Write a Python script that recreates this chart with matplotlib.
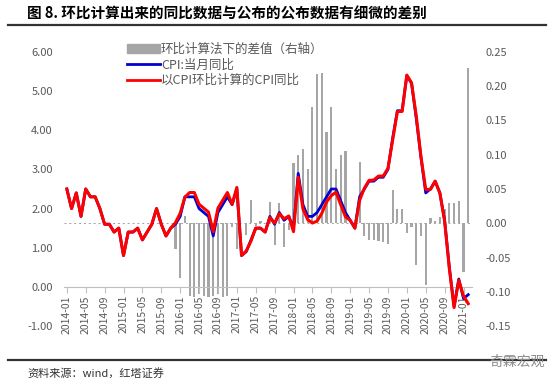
import numpy as np
import pandas as pd
import matplotlib
matplotlib.use("Agg")
import matplotlib.pyplot as plt
from matplotlib.patches import Patch
from matplotlib.lines import Line2D

plt.rcParams['font.family'] = ['Noto Sans CJK SC', 'DejaVu Sans']

# months 2014-01 .. 2021-02
months = pd.date_range('2014-01', periods=86, freq='MS').strftime('%Y-%m').tolist()

# CPI:当月同比
cpi = [2.5, 2.0, 2.4, 1.8, 2.5, 2.3, 2.3, 2.0, 1.6, 1.6, 1.4, 1.5,
       0.8, 1.4, 1.4, 1.5, 1.2, 1.4, 1.6, 2.0, 1.6, 1.3, 1.5, 1.6,
       1.8, 2.3, 2.3, 2.3, 2.0, 1.9, 1.8, 1.3, 1.9, 2.1, 2.3, 2.1,
       2.5, 0.8, 0.9, 1.2, 1.5, 1.5, 1.4, 1.8, 1.6, 1.9, 1.7, 1.8,
       1.5, 2.9, 2.1, 1.8, 1.8, 1.9, 2.1, 2.3, 2.5, 2.5, 2.2, 1.9,
       1.7, 1.5, 2.3, 2.5, 2.7, 2.7, 2.8, 2.8, 3.0, 3.8, 4.5, 4.5,
       5.4, 5.2, 4.3, 3.3, 2.4, 2.5, 2.7, 2.4, 1.7, 0.5, -0.5, 0.2,
       -0.3, -0.2]

# 以CPI环比计算的CPI同比
cpi_mom = [2.5, 2.0, 2.4, 1.8, 2.5, 2.3, 2.3, 2.0, 1.6, 1.6, 1.4, 1.5,
           0.8, 1.4, 1.4, 1.5, 1.2, 1.4, 1.6, 2.0, 1.6, 1.3, 1.5, 1.64,
           1.88, 2.29, 2.41, 2.41, 2.11, 2.01, 1.91, 1.41, 2.01, 2.21, 2.41, 2.11,
           2.54, 0.80, 0.92, 1.17, 1.50, 1.50, 1.40, 1.77, 1.63, 1.87, 1.74, 1.81,
           1.41, 2.80, 1.99, 1.72, 1.63, 1.68, 1.88, 2.17, 2.33, 2.42, 2.10, 1.79,
           1.70, 1.50, 2.21, 2.52, 2.72, 2.73, 2.83, 2.83, 3.03, 3.75, 4.48, 4.48,
           5.41, 5.21, 4.36, 3.32, 2.49, 2.49, 2.70, 2.39, 1.68, 0.47, -0.53, 0.17,
           -0.23, -0.43]

# 环比计算法下的差值（右轴）
diff = [0, 0, 0, 0, 0, 0, 0, 0, 0, 0, 0, 0,
        0, 0, 0, 0, 0, 0, 0, 0, 0, 0, 0, -0.037,
        -0.080, 0.011, -0.106, -0.108, -0.104, -0.106, -0.108, -0.106, -0.104, -0.108, -0.106, -0.006,
        -0.037, 0, -0.017, 0.034, -0.004, 0.004, 0, 0.031, -0.032, 0.030, -0.035, -0.010,
        0.088, 0.099, 0.108, 0.079, 0.170, 0.218, 0.220, 0.133, 0.169, 0.079, 0.099, 0.106,
        0, 0, 0.089, -0.019, -0.024, -0.025, -0.026, -0.027, -0.031, 0.049, 0.021, 0.021,
        -0.014, -0.006, -0.061, -0.018, -0.090, 0.008, 0.003, 0.009, 0.021, 0.029, 0.030, 0.032,
        -0.071, 0.226]

title = "图 8. 环比计算出来的同比数据与公布的公布数据有细微的差别"
source = "资料来源：wind，红塔证券"

txt = '#595959'
grey = '#A6A6A6'

fig = plt.figure(figsize=(5.54, 3.90), dpi=100)
ax = fig.add_axes([64/554, 64/390, 408/554, 274/390])
ax2 = ax.twinx()

x = np.arange(len(months))

ax2.bar(x, diff, width=0.45, color=grey, zorder=1)
ax2.axhline(0, color='#A0A0A0', lw=0.7, ls=(0, (2, 3)), zorder=0)
ax2.set_ylim(-0.15, 0.25)
ax2.set_yticks(np.arange(-0.15, 0.2501, 0.05))
ax2.yaxis.set_major_formatter(matplotlib.ticker.FormatStrFormatter('%.2f'))

ax.set_zorder(ax2.get_zorder() + 1)
ax.patch.set_visible(False)
ax.plot(x, cpi, color='#0000D0', lw=2.0, zorder=3)
ax.plot(x, cpi_mom, color='#FF0000', lw=2.2, zorder=4)
ax.set_ylim(-1, 6)
ax.set_yticks(np.arange(-1, 6.01, 1))
ax.yaxis.set_major_formatter(matplotlib.ticker.FormatStrFormatter('%.2f'))
ax.set_xlim(-0.6, 85.8)

for a in (ax, ax2):
    for s in ('top', 'right', 'left'):
        a.spines[s].set_visible(False)
ax2.spines['bottom'].set_visible(False)
ax.spines['bottom'].set_position(('data', 0))
ax.spines['bottom'].set_color('#BFBFBF')

ax.set_xticks(x[::4])
ax.set_xticklabels(months[::4], rotation=90)
ax.tick_params(axis='x', colors='#BFBFBF', length=4, width=0.8, labelcolor=txt, labelsize=7.5, pad=2)
ax.tick_params(axis='y', length=0, labelcolor=txt, labelsize=8, pad=8)
ax2.tick_params(axis='y', length=0, labelcolor=txt, labelsize=8, pad=10)

handles = [Patch(color=grey), Line2D([], [], color='#0000D0', lw=2),
           Line2D([], [], color='#FF0000', lw=2)]
labels = ['环比计算法下的差值（右轴）', 'CPI:当月同比', '以CPI环比计算的CPI同比']
leg = fig.legend(handles, labels, loc='upper left', bbox_to_anchor=(122/554, 1 - 38/390),
                 frameon=False, fontsize=9, labelspacing=0.2, handlelength=2.6,
                 handletextpad=0.1, borderaxespad=0)
for t in leg.get_texts():
    t.set_color(txt)

fig.text(27/554, 1 - 14/390, title, fontsize=10.5, fontweight='bold', va='center', ha='left')
fig.add_artist(Line2D([8/554, 546/554], [1 - 25/390, 1 - 25/390], color='#333333', lw=1.6))
fig.add_artist(Line2D([8/554, 546/554], [1 - 360/390, 1 - 360/390], color='#333333', lw=1.6))
fig.text(27/554, 1 - 373/390, source, fontsize=8, va='center', ha='left', color='#333333')
fig.text(545/554, 1 - 362/390, '奇霖宏观', fontsize=10, va='center', ha='right', color='#8C8C8C')

fig.savefig('out.png', dpi=100)
